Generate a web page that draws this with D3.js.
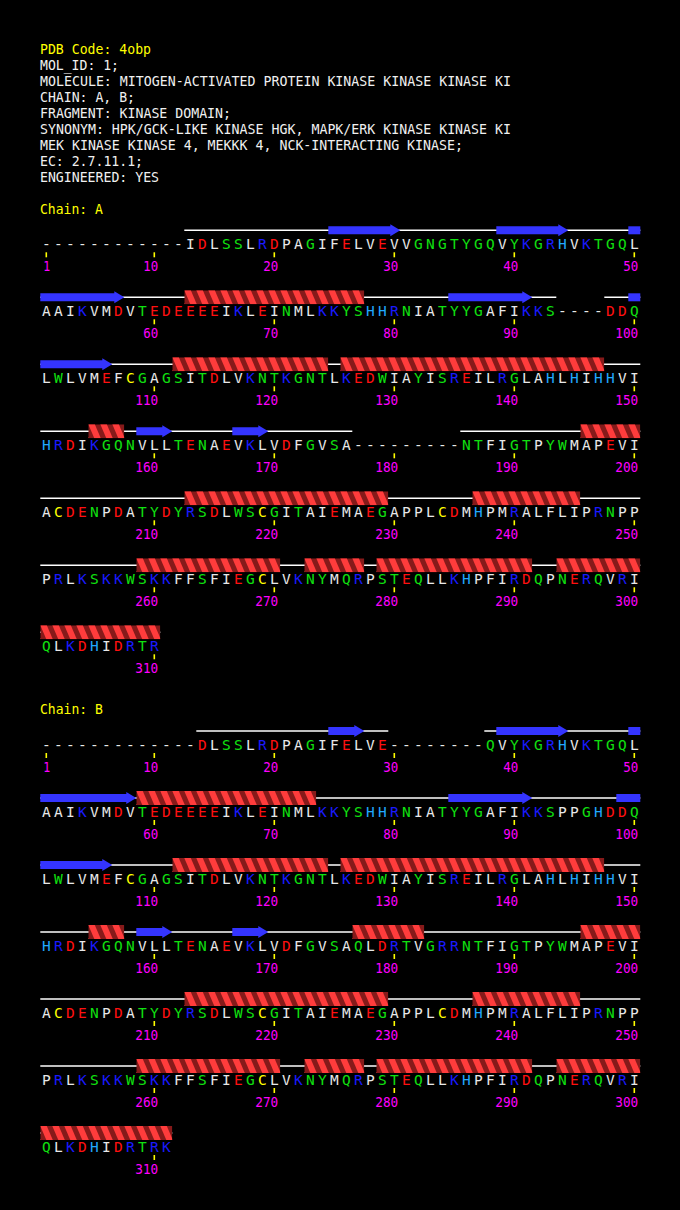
<!DOCTYPE html>
<html>
<head>
<meta charset="utf-8">
<script src="https://cdn.jsdelivr.net/npm/d3@7"></script>
<style>
  html, body { margin: 0; padding: 0; background: #000; }
  text { font-family: "DejaVu Sans Mono", "Liberation Mono", monospace; font-size: 14.5px; }
</style>
</head>
<body>
<script>
// header text of the entry
const headerLines = [
  "PDB Code: 4obp",
  "MOL_ID: 1;",
  "MOLECULE: MITOGEN-ACTIVATED PROTEIN KINASE KINASE KINASE KI",
  "CHAIN: A, B;",
  "FRAGMENT: KINASE DOMAIN;",
  "SYNONYM: HPK/GCK-LIKE KINASE HGK, MAPK/ERK KINASE KINASE KI",
  "MEK KINASE KINASE 4, MEKKK 4, NCK-INTERACTING KINASE;",
  "EC: 2.7.11.1;",
  "ENGINEERED: YES"
]

// sequences, 50 residues per row, '-' = not observed
const seqA = [
  "------------IDLSSLRDPAGIFELVEVVGNGTYGQVYKGRHVKTGQL",
  "AAIKVMDVTEDEEEEIKLEINMLKKYSHHRNIATYYGAFIKKS----DDQ",
  "LWLVMEFCGAGSITDLVKNTKGNTLKEDWIAYISREILRGLAHLHIHHVI",
  "HRDIKGQNVLLTENAEVKLVDFGVSA---------NTFIGTPYWMAPEVI",
  "ACDENPDATYDYRSDLWSCGITAIEMAEGAPPLCDMHPMRALFLIPRNPP",
  "PRLKSKKWSKKFFSFIEGCLVKNYMQRPSTEQLLKHPFIRDQPNERQVRI",
  "QLKDHIDRTR"
]
const seqB = [
  "-------------DLSSLRDPAGIFELVE--------QVYKGRHVKTGQL",
  "AAIKVMDVTEDEEEEIKLEINMLKKYSHHRNIATYYGAFIKKSPPGHDDQ",
  "LWLVMEFCGAGSITDLVKNTKGNTLKEDWIAYISREILRGLAHLHIHHVI",
  "HRDIKGQNVLLTENAEVKLVDFGVSAQLDRTVGRRNTFIGTPYWMAPEVI",
  "ACDENPDATYDYRSDLWSCGITAIEMAEGAPPLCDMHPMRALFLIPRNPP",
  "PRLKSKKWSKKFFSFIEGCLVKNYMQRPSTEQLLKHPFIRDQPNERQVRI",
  "QLKDHIDRTRK"
]

// secondary structure, [first, last] residue
const helixA = [[63,77],[112,124],[126,147],[155,157],[196,200],[213,229],[237,245],[259,270],[273,277],[279,291],[294,310]]
const strandA = [[25,30],[39,44],[50,57],[85,91],[100,106],[159,161],[167,169]]
const helixB = [[59,73],[112,124],[126,147],[155,157],[177,182],[196,200],[213,229],[237,245],[259,270],[273,277],[279,291],[294,311]]
const strandB = [[25,27],[39,44],[50,58],[85,91],[99,106],[159,161],[167,169]]

const perRow = 50
const rowStep = 67

const resColor = c => {
  if ("DE".includes(c)) return "#ff1010"
  if ("KR".includes(c)) return "#1a1aff"
  if (c === "H") return "#20a8ff"
  if ("GSTNQYW".includes(c)) return "#10e010"
  if (c === "C") return "#ffff00"
  return "#e8e8e8"
}

const chains = [
  { id: "A", rows: seqA, helices: helixA, strands: strandA, top: 230.3 },
  { id: "B", rows: seqB, helices: helixB, strands: strandB, top: 731 }
]

const width = 680, height = 1210

const svg = d3.select("body").append("svg")
    .attr("width", width)
    .attr("height", height)
    .attr("xmlns", "http://www.w3.org/2000/svg")

svg.append("rect").attr("width", width).attr("height", height).attr("fill", "#000")

const x = d3.scaleBand().domain(d3.range(perRow)).range([40.3, 640.3])
const bw = x.bandwidth()

// header, 8px per character like the original bitmap font
svg.append("g").selectAll("text")
  .data(headerLines)
  .join("text")
    .attr("x", 40)
    .attr("y", (d, i) => 53.5 + i * 16)
    .attr("textLength", d => d.length * 8 - 1)
    .attr("lengthAdjust", "spacingAndGlyphs")
    .attr("fill", (d, i) => i === 0 ? "#ffff00" : "#f0f0f0")
    .text(d => d)

// cut a residue range into per-row pieces
function pieces([s, e]) {
  const out = []
  let p = s
  while (p <= e) {
    const row = Math.floor((p - 1) / perRow)
    const rowEnd = Math.min(e, (row + 1) * perRow)
    out.push({ row, i0: (p - 1) % perRow, i1: (rowEnd - 1) % perRow, last: rowEnd === e })
    p = rowEnd + 1
  }
  return out
}

let clipN = 0

chains.forEach(ch => {
  const g = svg.append("g")
  const rowY = r => ch.top + r * rowStep

  g.append("text")
    .attr("x", 40)
    .attr("y", ch.top - 16.8)
    .attr("textLength", 8 * 8 - 1)
    .attr("lengthAdjust", "spacingAndGlyphs")
    .attr("fill", "#ffff00")
    .text("Chain: " + ch.id)

  // coil line over observed residues
  const runs = []
  ch.rows.forEach((str, r) => {
    let start = null
    str.split("").forEach((c, i) => {
      if (c !== "-" && start === null) start = i
      if ((c === "-" || i === str.length - 1) && start !== null) {
        runs.push({ r, i0: start, i1: c === "-" ? i - 1 : i })
        start = null
      }
    })
  })
  g.append("g").selectAll("line")
    .data(runs)
    .join("line")
      .attr("x1", d => x(d.i0))
      .attr("x2", d => x(d.i1) + bw)
      .attr("y1", d => rowY(d.r))
      .attr("y2", d => rowY(d.r))
      .attr("stroke", "#fff")
      .attr("stroke-width", 1.6)

  // strands
  const strandPieces = ch.strands.flatMap(pieces)
  g.append("g").selectAll("path")
    .data(strandPieces)
    .join("path")
      .attr("fill", "#3434ff")
      .attr("d", d => {
        const x0 = x(d.i0), x1 = x(d.i1) + bw, y = rowY(d.row)
        if (!d.last) return `M${x0},${y - 4}H${x1}V${y + 4}H${x0}Z`
        const hx = x1 - 10
        return `M${x0},${y - 4}H${hx}V${y - 6}L${x1},${y}L${hx},${y + 6}V${y + 4}H${x0}Z`
      })

  // helices
  const helixPieces = ch.helices.flatMap(pieces)
  const hg = g.append("g")
  helixPieces.forEach(d => {
    const x0 = x(d.i0), x1 = x(d.i1) + bw, y = rowY(d.row)
    const T = y - 7, B = y + 7
    const id = "hclip" + (clipN++)
    hg.append("clipPath").attr("id", id)
      .append("rect").attr("x", x0).attr("y", T).attr("width", x1 - x0).attr("height", B - T)
    const one = hg.append("g").attr("clip-path", `url(#${id})`)
    one.append("rect")
      .attr("x", x0).attr("y", T).attr("width", x1 - x0).attr("height", B - T)
      .attr("fill", "#861a1a")
    one.selectAll("polygon")
      .data(d3.range(d.i0 - 1, d.i1 + 1))
      .join("polygon")
        .attr("fill", "#ff3c3c")
        .attr("points", i => {
          const a = x.range()[0] + i * bw
          return [[a, T], [a + 6.5, T], [a + 12.5, B], [a + 6, B]].join(" ")
        })
  })

  // residue letters, ticks, numbers
  ch.rows.forEach((str, r) => {
    const y = rowY(r)
    const rg = g.append("g")
    rg.selectAll("text.res")
      .data(str.split(""))
      .join("text")
        .attr("class", "res")
        .attr("x", (c, i) => x(i) + bw / 2)
        .attr("y", y + 19)
        .attr("text-anchor", "middle")
        .attr("fill", c => resColor(c))
        .text(c => c)

    const marks = d3.range(str.length)
      .map(i => ({ i, n: r * perRow + i + 1 }))
      .filter(d => d.n === 1 || d.n % 10 === 0)

    rg.selectAll("rect.tick")
      .data(marks)
      .join("rect")
        .attr("class", "tick")
        .attr("x", d => x(d.i) + bw / 2 - 0.8)
        .attr("y", y + 22)
        .attr("width", 1.6)
        .attr("height", 5)
        .attr("fill", "#ffff00")

    rg.selectAll("text.num")
      .data(marks)
      .join("text")
        .attr("class", "num")
        .attr("x", d => x(d.i) + bw / 2 + 4)
        .attr("y", y + 40.5)
        .attr("text-anchor", "end")
        .attr("textLength", d => String(d.n).length * 8 - 1)
        .attr("lengthAdjust", "spacingAndGlyphs")
        .attr("fill", "#ff00ff")
        .text(d => d.n)
  })
})
</script>
</body>
</html>
